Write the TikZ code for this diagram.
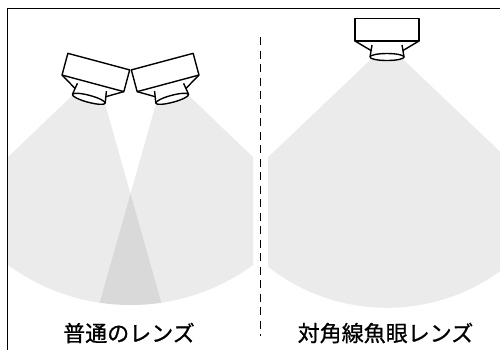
\documentclass[tikz,border=0pt]{standalone}
\usepackage{fontspec}
\setmainfont{Noto Sans CJK JP}
\newfontfamily\labelfont[BoldFont={Noto Sans CJK JP},BoldFeatures={FakeBold=0.9}]{Noto Sans CJK JP}

\tikzset{
  fan/.style={fill=black,fill opacity=0.08},
  lenslabel/.style={font=\labelfont\bfseries\fontsize{22}{26}\selectfont},
  camera/.pic={
    % body, housing and lens, lens centre at the origin
    \fill[white] (-32,-16) -- (-16,-6.5) -- (-17,0) -- (17,0) -- (16,-6.5) -- (32,-16) -- cycle;
    \filldraw[fill=white] (-32,-38.5) rectangle (32,-16);
    \draw (-32,-16) -- (-16,-6.5) (32,-16) -- (16,-6.5);
    \draw (-15,-12) .. controls (-16.5,-6) .. (-17,0);
    \draw (15,-12) .. controls (16.5,-6) .. (17,0);
    \filldraw[fill=white] (0,0) ellipse [x radius=17pt, y radius=3.5pt];
  }
}

\begin{document}
\begin{tikzpicture}[x=1pt,y=-1pt,line width=1.4pt,line join=round]
\useasboundingbox (0,0) rectangle (500,349);
\draw[line width=1pt] (7,8) rectangle (510,360);

% two normal lenses, fields of view overlap in the middle
\begin{scope}
  \clip (8,0) rectangle (253,349);
  \clip (130.5,97.5) circle [radius=207.5pt];
  \fill[fan] (96.2,72.5) -- +(74.2:600) -- +(136.2:600) -- cycle;
  \fill[fan] (164.8,72.5) -- +(43.8:600) -- +(105.8:600) -- cycle;
\end{scope}

% one diagonal fisheye lens
\begin{scope}
  \clip (268,0) rectangle (500,349);
  \clip (387,114.8) circle [radius=193pt];
  \fill[fan] (387,44) -- +(43.6:600) -- +(136.4:600) -- cycle;
\end{scope}

\pic[rotate=-15] at (88.8,98.8) {camera};
\pic[rotate=15] at (172.2,98.8) {camera};
\pic at (387,57) {camera};

\draw[line width=1.3pt,dash pattern=on 8pt off 5.5pt] (260.7,37) -- (260.7,336);

\node[lenslabel] (normal) at (129,333) {普通のレンズ};
\node[lenslabel] (fisheye) at (385.5,333) {対角線魚眼レンズ};
\end{tikzpicture}
\end{document}
